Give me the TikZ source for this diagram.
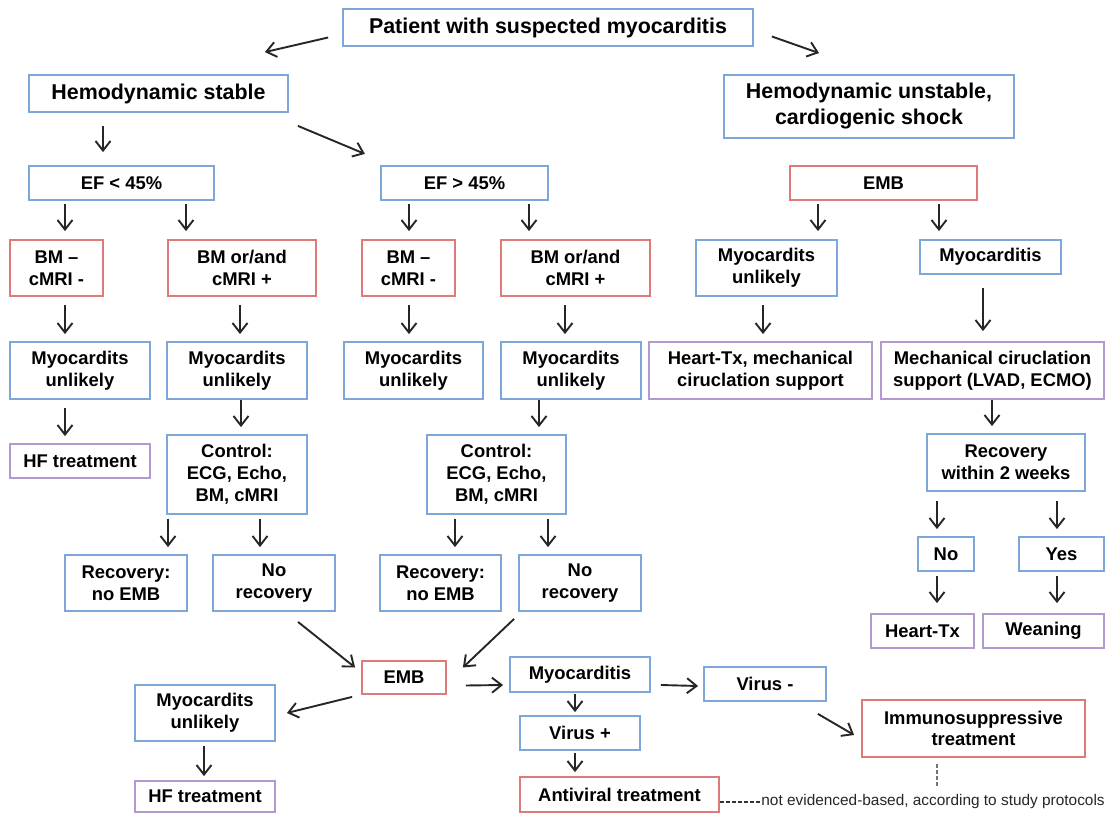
\documentclass[tikz,border=0pt]{standalone}
\usepackage{fontspec}
\setmainfont{Liberation Sans}
\usepackage{xcolor}
\usepackage{tikz}
\usetikzlibrary{arrows.meta,calc}
\definecolor{boxblue}{RGB}{126,166,216}
\definecolor{boxred}{RGB}{222,122,122}
\definecolor{boxpurple}{RGB}{180,152,208}
\tikzset{
  box/.style={draw,line width=0.9pt,inner sep=1pt,align=center,text=black,
    font=\fontsize{9.2}{10.9}\selectfont\bfseries},
  bluebox/.style={box,draw=boxblue},
  redbox/.style={box,draw=boxred},
  purplebox/.style={box,draw=boxpurple},
  bigtext/.style={font=\fontsize{10.7}{13}\selectfont\bfseries},
  sz/.style 2 args={minimum width=#1*0.5pt,minimum height=#2*0.5pt},
  arr/.style={-{Straight Barb[length=4.8pt,width=7.5pt]},line width=0.95pt,black!85,
    shorten <=2pt,shorten >=3.5pt},
  dashln/.style={line width=0.6pt,dash pattern=on 2pt off 1pt},
}
\newcommand{\arrv}[4][]{\draw[arr,#1] (#2.south -| #4,0) -- (#3.north -| #4,0);}
\begin{document}
\begin{tikzpicture}[x=0.5pt,y=-0.5pt]
\useasboundingbox (0,0) rectangle (1116,814);
% ---- TOP ----
\node[bluebox,bigtext,sz={410}{37}] (patient) at (548,27.5) {Patient with suspected myocarditis};
\node[bluebox,bigtext,sz={259}{37}] (stable) at (158.5,93.5) {Hemodynamic stable};
\node[bluebox,bigtext,sz={290}{63}] (unstable) at (869,106.5) {Hemodynamic unstable,\\cardiogenic shock};
\draw[arr,shorten <=0pt,shorten >=0pt] ($(patient.west)+(-14,10)$) -- ($(stable.north east)+(-24,-22)$);
\draw[arr,shorten <=0pt,shorten >=0pt] ($(patient.east)+(18,9)$) -- ($(unstable.north west)+(96,-21)$);
\draw[arr,shorten <=0pt,shorten >=0pt] ($(stable.south east)+(9,13)$) -- ($(stable.south east)+(76,41)$);
% ---- EF ROW ----
\node[bluebox,sz={185}{34}] (ef1) at (121.5,183) {EF < 45\%};
\node[bluebox,sz={167}{34}] (ef2) at (464.5,183) {EF > 45\%};
\node[redbox,sz={187}{34}] (emb1) at (883.5,183) {EMB};
\arrv[shorten <=6.5pt,shorten >=6.5pt]{stable}{ef1}{103}
% ---- BM ROW ----
\node[redbox,sz={93}{56}] (bm1) at (56.5,268) {BM --\\cMRI -};
\node[redbox,sz={148}{56}] (bm2) at (242,268) {BM or/and\\cMRI +};
\node[redbox,sz={93}{56}] (bm3) at (408.5,268) {BM --\\cMRI -};
\node[redbox,sz={149}{56}] (bm4) at (575.5,268) {BM or/and\\cMRI +};
\node[bluebox,sz={141}{56}] (mu1) at (766.5,268) {Myocardits\\unlikely};
\node[bluebox,sz={141}{34}] (myoc1) at (990.5,257) {Myocarditis};
\arrv[shorten <=1.5pt,shorten >=4pt]{ef1}{bm1}{65}
\arrv[shorten <=1.5pt,shorten >=4pt]{ef1}{bm2}{186}
\arrv[shorten <=1.5pt,shorten >=4pt]{ef2}{bm3}{409}
\arrv[shorten <=1.5pt,shorten >=4pt]{ef2}{bm4}{529}
\arrv[shorten <=1.5pt,shorten >=4pt]{emb1}{mu1}{818}
\arrv[shorten <=1.5pt,shorten >=4pt]{emb1}{myoc1}{939}
% ---- MIDDLE ROW ----
\node[bluebox,sz={140}{57}] (mu2) at (80,370.5) {Myocardits\\unlikely};
\node[bluebox,sz={140}{57}] (mu3) at (237,370.5) {Myocardits\\unlikely};
\node[bluebox,sz={139}{57}] (mu4) at (413.5,370.5) {Myocardits\\unlikely};
\node[bluebox,sz={140}{57}] (mu5) at (571,370.5) {Myocardits\\unlikely};
\node[purplebox,sz={223}{57}] (htx1) at (760.5,370.5) {Heart-Tx, mechanical\\ciruclation support};
\node[purplebox,sz={223}{57}] (mcs) at (992.5,370.5) {Mechanical ciruclation\\support (LVAD, ECMO)};
\arrv[shorten <=4pt]{bm1}{mu2}{65}
\arrv[shorten <=4pt]{bm2}{mu3}{240}
\arrv[shorten <=4pt]{bm3}{mu4}{409}
\arrv[shorten <=4pt]{bm4}{mu5}{565}
\arrv[shorten <=4pt]{mu1}{htx1}{763}
\arrv[shorten <=6.5pt,shorten >=5pt]{myoc1}{mcs}{983}
% ---- CONTROL ROW ----
\node[purplebox,sz={140}{34}] (hf1) at (80,461) {HF treatment};
\node[bluebox,sz={140}{79}] (ctrl1) at (237,474.5) {Control:\\ECG, Echo,\\BM, cMRI};
\node[bluebox,sz={139}{79}] (ctrl2) at (496.5,474.5) {Control:\\ECG, Echo,\\BM, cMRI};
\node[bluebox,sz={158}{57}] (rw2) at (1006,462.5) {Recovery\\within 2 weeks};
\arrv[shorten <=4pt]{mu2}{hf1}{65}
\arrv[shorten <=0pt]{mu3}{ctrl1}{241}
\arrv[shorten <=0pt]{mu5}{ctrl2}{539}
\arrv[shorten <=0pt]{mcs}{rw2}{992}
% ---- RECOVERY ROW ----
\node[bluebox,sz={122}{56}] (rec1) at (126,583) {Recovery:\\no EMB};
\node[bluebox,sz={122}{56}] (norec1) at (274,583) {No\\recovery};
\node[bluebox,sz={121}{56}] (rec2) at (440.5,583) {Recovery:\\no EMB};
\node[bluebox,sz={122}{56}] (norec2) at (580,583) {No\\recovery};
\node[bluebox,sz={56}{34}] (no) at (946,554) {No};
\node[bluebox,sz={85}{34}] (yes) at (1061.5,554) {Yes};
\node[purplebox,sz={103}{34}] (htx2) at (922.5,631) {Heart-Tx};
\node[purplebox,sz={121}{34}] (wean) at (1043.5,631) {Weaning};
\arrv{ctrl1}{rec1}{168}
\arrv{ctrl1}{norec1}{260}
\arrv{ctrl2}{rec2}{455}
\arrv{ctrl2}{norec2}{548}
\arrv[shorten <=4.5pt]{rw2}{no}{937}
\arrv[shorten <=4.5pt]{rw2}{yes}{1057}
\arrv[shorten >=5pt]{no}{htx2}{937}
\arrv[shorten >=5pt]{yes}{wean}{1057}
% ---- BIOPSY ----
\node[redbox,sz={84}{33}] (emb2) at (404,677.5) {EMB};
\node[bluebox,sz={140}{56}] (mu6) at (205,713) {Myocardits\\unlikely};
\node[purplebox,sz={140}{31}] (hf2) at (205,796.5) {HF treatment};
\node[bluebox,sz={140}{35}] (myoc2) at (580,674.5) {Myocarditis};
\node[bluebox,sz={120}{34}] (virp) at (580,733) {Virus +};
\node[redbox,sz={199}{35}] (antiv) at (619.5,794.5) {Antiviral treatment};
\node[bluebox,sz={122}{34}] (virm) at (765,684) {Virus -};
\node[redbox,sz={223}{57}] (immuno) at (973.5,728.5) {Immunosuppressive\\treatment};
\draw[arr,shorten <=0pt,shorten >=0pt] ($(norec1.south)+(24,10)$) -- ($(emb2.west)+(-6,-10)$);
\draw[arr,shorten <=0pt,shorten >=0pt] ($(norec2.south west)+(-4,7)$) -- ($(emb2.east)+(16,-10)$);
\draw[arr,shorten <=0pt,shorten >=0pt] ($(emb2.south west)+(-9,2)$) -- ($(mu6.east)+(11,0)$);
\draw[arr,shorten <=0pt,shorten >=0pt] ($(emb2.east)+(19,8)$) -- ($(myoc2.west)+(-6,10.5)$);
\draw[arr,shorten <=0pt,shorten >=0pt] ($(myoc2.east)+(10,10.5)$) -- ($(virm.west)+(-5,2)$);
\draw[arr,shorten <=0pt,shorten >=0pt] ($(virm.south east)+(-9,12)$) -- ($(immuno.west)+(-7,6.5)$);
\arrv[shorten <=2pt,shorten >=2pt]{mu6}{hf2}{204}
\arrv[shorten <=0.5pt,shorten >=1.5pt]{myoc2}{virp}{575}
\arrv[shorten <=1pt,shorten >=2pt]{virp}{antiv}{575}
% ---- NOTE ----
\node[font=\fontsize{7.7}{9}\selectfont,anchor=west,inner sep=0pt,text=black!85] (note) at (761,802) {not evidenced-based, according to study protocols};
\draw[dashln,black!80] (antiv.east |- note.west) -- (note.west);
\coordinate (dashend) at (937,787);
\draw[dashln,black!55,shorten <=3pt] (immuno.south -| dashend) -- (dashend);
\end{tikzpicture}
\end{document}
